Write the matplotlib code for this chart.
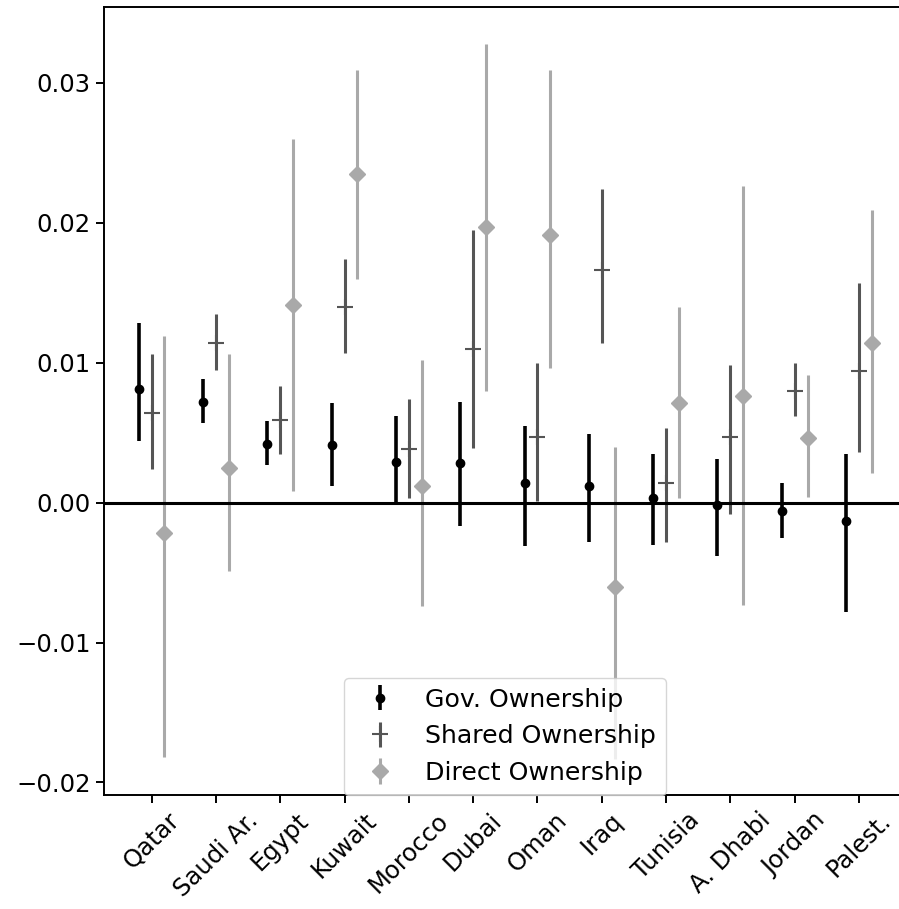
import numpy as np
import matplotlib
matplotlib.use("Agg")
import matplotlib.pyplot as plt

countries = ["Qatar", "Saudi Ar.", "Egypt", "Kuwait", "Morocco", "Dubai",
             "Oman", "Iraq", "Tunisia", "A. Dhabi", "Jordan", "Palest."]

# point estimates and interval ends (lower, upper)
gov = [0.0081, 0.0072, 0.0042, 0.0041, 0.0029, 0.0028,
       0.0014, 0.0012, 0.0003, -0.0002, -0.0006, -0.0013]
gov_lo = [0.0044, 0.0057, 0.0027, 0.0012, 0.0000, -0.0017,
          -0.0031, -0.0028, -0.0030, -0.0038, -0.0025, -0.0078]
gov_hi = [0.0128, 0.0088, 0.0058, 0.0071, 0.0062, 0.0072,
          0.0055, 0.0049, 0.0035, 0.0031, 0.0014, 0.0035]

shared = [0.0064, 0.0114, 0.0059, 0.0140, 0.0038, 0.0110,
          0.0047, 0.0166, 0.0014, 0.0047, 0.0080, 0.0094]
shared_lo = [0.0024, 0.0095, 0.0035, 0.0107, 0.0003, 0.0039,
             0.0001, 0.0114, -0.0028, -0.0008, 0.0062, 0.0036]
shared_hi = [0.0106, 0.0135, 0.0083, 0.0174, 0.0074, 0.0195,
             0.0100, 0.0224, 0.0053, 0.0098, 0.0100, 0.0157]

direct = [-0.0022, 0.0025, 0.0141, 0.0235, 0.0012, 0.0197,
          0.0191, -0.0060, 0.0071, 0.0076, 0.0046, 0.0114]
direct_lo = [-0.0182, -0.0049, 0.0008, 0.0160, -0.0074, 0.0080,
             0.0096, -0.0183, 0.0003, -0.0073, 0.0004, 0.0021]
direct_hi = [0.0119, 0.0106, 0.0260, 0.0309, 0.0102, 0.0328,
             0.0309, 0.0040, 0.0140, 0.0226, 0.0091, 0.0209]

plt.rcParams['font.family'] = ['DejaVu Sans']

fig = plt.figure(figsize=(8.99, 9.09), dpi=100)
# the reference is cropped on the right, so the axes run past the edge
ax = fig.add_axes([0.1157, 0.1254, 0.8927, 0.8666])

x = np.arange(len(countries))


def yerr(v, lo, hi):
    v, lo, hi = np.array(v), np.array(lo), np.array(hi)
    return np.vstack([v - lo, hi - v])


ax.errorbar(x - 0.2, gov, yerr=yerr(gov, gov_lo, gov_hi), fmt='o', color='k',
            ms=6, elinewidth=2.6, label='Gov. Ownership')
ax.errorbar(x, shared, yerr=yerr(shared, shared_lo, shared_hi), fmt='+',
            color='#555555', ms=11, mew=1.5, elinewidth=2.2,
            label='Shared Ownership')
ax.errorbar(x + 0.2, direct, yerr=yerr(direct, direct_lo, direct_hi), fmt='D',
            color='#a9a9a9', ms=8, elinewidth=2.2, label='Direct Ownership')

ax.axhline(0, color='k', lw=2.2)

ax.set_xlim(-0.74, 11.74)
ax.set_ylim(-0.0209, 0.0354)
ax.set_yticks([-0.02, -0.01, 0.0, 0.01, 0.02, 0.03])
ax.set_xticks(x)
ax.set_xticklabels(countries, rotation=45)
ax.tick_params(labelsize=17.5, length=6, width=1.4)
for s in ax.spines.values():
    s.set_linewidth(1.4)

ax.legend(loc='lower center', bbox_to_anchor=(0.5, 0.0), borderaxespad=0,
          fontsize=18.2, framealpha=0.8)

fig.savefig("out.png", dpi=100)
